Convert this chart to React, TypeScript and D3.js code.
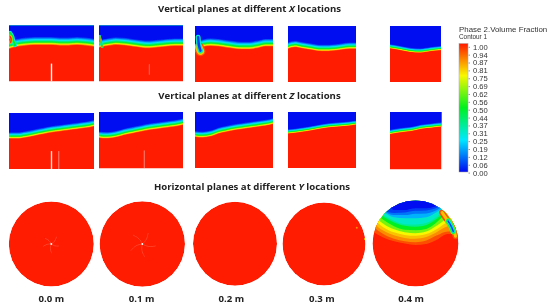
import { useEffect, useRef } from 'react';
import * as d3 from 'd3';

type Pt = [number, number];

// colour bar labels, top to bottom
const tickLabels = ['1.00', '0.94', '0.87', '0.81', '0.75', '0.69', '0.62', '0.56', '0.50', '0.44', '0.37', '0.31', '0.25', '0.19', '0.12', '0.06', '0.00'];

// depth of the 0.5 contour below the panel top, as a fraction of panel height, left to right
const xPlaneInterface = [
    [0.37, 0.33, 0.31, 0.30, 0.30, 0.30, 0.31, 0.31, 0.30, 0.31, 0.33],
    [0.35, 0.32, 0.30, 0.31, 0.33, 0.35, 0.36, 0.345, 0.33, 0.32, 0.32],
    [0.42, 0.33, 0.31, 0.32, 0.34, 0.36, 0.37, 0.37, 0.35, 0.32, 0.32],
    [0.37, 0.34, 0.36, 0.38, 0.40, 0.41, 0.41, 0.40, 0.385, 0.37, 0.37],
    [0.375, 0.405, 0.44, 0.45, 0.425, 0.405],
];
const zPlaneInterface = [
    [0.42, 0.42, 0.40, 0.37, 0.34, 0.31, 0.29, 0.27, 0.25, 0.23, 0.20],
    [0.42, 0.43, 0.41, 0.37, 0.34, 0.31, 0.28, 0.26, 0.24, 0.22, 0.19],
    [0.41, 0.42, 0.40, 0.35, 0.32, 0.29, 0.27, 0.25, 0.23, 0.21, 0.18],
    [0.36, 0.33, 0.29, 0.25, 0.23, 0.20],
    [0.36, 0.33, 0.31, 0.27, 0.25, 0.23],
];
// half thickness of the blue-to-red transition, same units
const xPlaneSpread = [0.095, 0.09, 0.09, 0.075, 0.05];
const zPlaneSpread = [0.075, 0.075, 0.07, 0.05, 0.05];

// contour levels of the 0.4 m section and their lower edges, stations run -1..1 across the circle
const capLevels = [0.94, 0.87, 0.81, 0.75, 0.62, 0.5, 0.37, 0.31, 0.19, 0.12, 0.06, 0];
const capEdges = [
    [-0.28, -0.14, -0.05, 0.0, 0.035, 0.01, -0.09, -0.22, -0.22],
    [-0.40, -0.22, -0.11, -0.05, -0.03, -0.07, -0.19, -0.28, -0.28],
    [-0.49, -0.3, -0.19, -0.13, -0.11, -0.15, -0.27, -0.4, -0.44],
    [-0.58, -0.38, -0.26, -0.2, -0.18, -0.22, -0.34, -0.5, -0.59],
    [-0.67, -0.46, -0.33, -0.26, -0.24, -0.28, -0.42, -0.6, -0.75],
    [-0.75, -0.55, -0.40, -0.32, -0.31, -0.34, -0.5, -0.73, -0.9],
    [-0.8, -0.62, -0.49, -0.41, -0.39, -0.43, -0.58, -0.79, -0.95],
    [-0.83, -0.66, -0.53, -0.45, -0.44, -0.48, -0.63, -0.83, -0.98],
    [-0.9, -0.73, -0.61, -0.59, -0.59, -0.61, -0.73, -0.9, -1],
    [-0.95, -0.76, -0.66, -0.66, -0.69, -0.7, -0.78, -0.95, -1],
    [-0.98, -0.78, -0.71, -0.72, -0.76, -0.77, -0.83, -0.98, -1],
    [-1, -1, -0.78, -0.78, -0.82, -0.82, -0.88, -1, -1],
];

// curls at the wall of the X planes, in panel fractions
const curlA: Pt[] = [[0.012, 0.13], [0.04, 0.2], [0.05, 0.27], [0.07, 0.35]];
const curlACore: Pt[] = [[0.015, 0.2], [0.025, 0.24], [0.02, 0.3]];
const curlB: Pt[] = [[0.008, 0.19], [0.028, 0.32], [0.04, 0.38]];
const curlCRim: Pt[] = [[0.05, 0.38], [0.07, 0.45]];
const curlCNeck: Pt[] = [[0.04, 0.2], [0.05, 0.34], [0.07, 0.44]];
// wet streak in the 0.4 m section, in circle units
const streakOuter: Pt[] = [[0.62, -0.72], [0.7, -0.6], [0.79, -0.48], [0.89, -0.32], [0.93, -0.17]];
const streakCore: Pt[] = [[0.76, -0.52], [0.82, -0.42], [0.88, -0.28]];

// thin gaps in the planes: x fraction, top fraction, bottom fraction, strength
const xPlaneSlits = [[[0.5, 0.68, 1, 1]], [[0.6, 0.69, 0.88, 0.25]], [], [], []];
const zPlaneSlits = [[[0.5, 0.68, 1, 0.85], [0.585, 0.68, 1, 0.35]], [[0.54, 0.68, 1, 0.35]], [], [], []];

// faint spokes around the shaft: angle in degrees and length as a fraction of the radius
const shaftAngles = [[36, -48, -108, 178, 104], [28, -46, -120, 170, 98]];
const shaftLengths = [[0.21, 0.2, 0.21, 0.22, 0.19], [0.29, 0.3, 0.31, 0.3, 0.32]];
// specks in the 0.3 m section
const specks = [[0.79, -0.39, 0.87], [0.985, -0.12, 0.81]];

const sectionLabels = ['0.0 m', '0.1 m', '0.2 m', '0.3 m', '0.4 m'];

const colour = d3.scaleLinear<string>()
    .domain([0, 0.25, 0.5, 0.75, 1])
    .range(['#0008f0', '#00e8ff', '#00f020', '#f8f800', '#ff1a00']);

// where a level sits inside the transition band, -1 top edge
const bandOffset = d3.scaleLinear().domain([0, 0.19, 0.5, 0.75, 0.94, 1]).range([-1, -0.55, 0, 0.28, 0.52, 0.8]);

function App() {
    const svgRef = useRef<SVGSVGElement>(null);

    useEffect(() => {
        if (!svgRef.current) return;
        const svg = d3.select(svgRef.current);
        svg.selectAll('*').remove();

        const defs = svg.append('defs');
        defs.append('filter').attr('id', 'soft').append('feGaussianBlur').attr('stdDeviation', 0.5);

        const levels = tickLabels.map(Number);
        const fillLevels = levels.filter(d => d < 1);
        const field = svg.append('g').attr('filter', 'url(#soft)');
        let clipId = 0;

        // first level is the widest, each next one sits inside it
        const drawPlume = (g: any, x: any, y: any, pts: Pt[], plumeLevels: number[], size: number) => {
            const line = d3.line<Pt>().x(d => x(d[0])).y(d => y(d[1])).curve(d3.curveCatmullRom);
            const width = d3.scaleLinear().domain([0, plumeLevels.length]).range([size, 0]);
            plumeLevels.forEach((level, i) => {
                g.append('path')
                    .attr('d', line(pts))
                    .attr('fill', 'none')
                    .attr('stroke', colour(level))
                    .attr('stroke-width', width(i))
                    .attr('stroke-linecap', 'round')
                    .attr('stroke-linejoin', 'round');
            });
        };

        const drawPanel = (box: number[], profile: number[], spread: number, slits: number[][]) => {
            const [x0, x1, y0, y1] = box;
            const x = d3.scaleLinear().domain([0, 1]).range([x0, x1]);
            const y = d3.scaleLinear().domain([0, 1]).range([y0, y1]);
            const station = d3.scaleLinear().domain([0, profile.length - 1]).range([0, 1]);
            const id = `panel-${clipId++}`;
            defs.append('clipPath').attr('id', id).append('rect')
                .attr('x', x0).attr('y', y0).attr('width', x1 - x0).attr('height', y1 - y0);
            const g = field.append('g').attr('clip-path', `url(#${id})`);
            g.append('rect').attr('x', x0).attr('y', y0).attr('width', x1 - x0).attr('height', y1 - y0)
                .attr('fill', colour(1));
            fillLevels.forEach(level => {
                const area = d3.area<number>()
                    .x((_, i) => x(station(i)))
                    .y0(y(0))
                    .y1(d => y(d + bandOffset(level) * spread))
                    .curve(d3.curveMonotoneX);
                g.append('path').attr('d', area(profile)).attr('fill', colour(level));
            });
            slits.forEach(([sx, top, bottom, strength]) => {
                g.append('rect')
                    .attr('x', x(sx) - 0.7).attr('y', y(top))
                    .attr('width', 1.4).attr('height', y(bottom) - y(top))
                    .attr('fill', '#fff').attr('opacity', strength);
            });
            return { g, x, y };
        };

        const xBoxes = [[9, 94, 25.5, 81.5], [99, 183, 25.5, 81.5], [195, 273, 26, 82], [288, 356, 26, 82], [390, 441, 26, 82]];
        const zBoxes = [[9, 94, 113, 169], [99, 183, 112, 168.5], [195, 273, 112, 168], [288, 356, 112, 168], [390, 441.5, 112, 169.5]];

        const xPanels = xBoxes.map((box, i) => drawPanel(box, xPlaneInterface[i], xPlaneSpread[i], xPlaneSlits[i]));
        zBoxes.forEach((box, i) => drawPanel(box, zPlaneInterface[i], zPlaneSpread[i], zPlaneSlits[i]));

        drawPlume(xPanels[0].g, xPanels[0].x, xPanels[0].y, curlA, [0.25, 0.5], 4);
        drawPlume(xPanels[0].g, xPanels[0].x, xPanels[0].y, curlACore, [0.62, 0.87, 1], 3.5);
        drawPlume(xPanels[1].g, xPanels[1].x, xPanels[1].y, curlB, [0.25, 0.5, 0.87], 2.5);
        drawPlume(xPanels[2].g, xPanels[2].x, xPanels[2].y, curlCRim, [0.94, 0.81, 0.62, 0.44], 10);
        drawPlume(xPanels[2].g, xPanels[2].x, xPanels[2].y, curlCNeck, [0.31, 0.06], 5);

        // horizontal sections
        const circles = [[51.3, 244, 42.5], [142.3, 244, 42.7], [235, 243.7, 42], [324, 244, 41.5], [415.5, 243.5, 43]];
        circles.forEach(([cx, cy, r], i) => {
            const x = d3.scaleLinear().domain([-1, 1]).range([cx - r, cx + r]);
            const y = d3.scaleLinear().domain([-1, 1]).range([cy - r, cy + r]);
            const id = `section-${i}`;
            defs.append('clipPath').attr('id', id).append('circle').attr('cx', cx).attr('cy', cy).attr('r', r);
            const g = field.append('g').attr('clip-path', `url(#${id})`);
            g.append('circle').attr('cx', cx).attr('cy', cy).attr('r', r).attr('fill', colour(1));

            if (shaftAngles[i]) {
                const spoke = d3.lineRadial<Pt>().angle(d => d[0]).radius(d => d[1]).curve(d3.curveBasis);
                shaftAngles[i].forEach((deg, j) => {
                    const a = (deg * Math.PI) / 180;
                    const len = shaftLengths[i][j] * r;
                    g.append('path')
                        .attr('d', spoke([[a, 0], [a + 0.35, len * 0.5], [a, len]]))
                        .attr('transform', `translate(${cx},${cy})`)
                        .attr('fill', 'none').attr('stroke', '#ff6a50').attr('stroke-width', 0.5);
                });
                g.append('circle').attr('cx', cx).attr('cy', cy).attr('r', 0.9).attr('fill', '#fff');
            }
            if (i === 3) {
                specks.forEach(([sx, sy, level]) => {
                    g.append('circle').attr('cx', x(sx)).attr('cy', y(sy)).attr('r', 1).attr('fill', colour(level));
                });
            }
            if (i === 4) {
                const station = d3.scaleLinear().domain([0, capEdges[0].length - 1]).range([-1, 1]);
                capLevels.forEach((level, k) => {
                    const area = d3.area<number>()
                        .x((_, j) => x(station(j)))
                        .y0(y(-1))
                        .y1(d => y(d))
                        .curve(d3.curveMonotoneX);
                    g.append('path').attr('d', area(capEdges[k])).attr('fill', colour(level));
                });
                drawPlume(g, x, y, streakOuter, [0.94, 0.81], 6);
                drawPlume(g, x, y, streakCore, [0.62, 0.44, 0.25, 0.06], 6);
            }
        });

        // colour bar
        const gradient = defs.append('linearGradient').attr('id', 'bar')
            .attr('x1', 0).attr('x2', 0).attr('y1', 1).attr('y2', 0);
        [...levels].reverse().forEach(level => {
            gradient.append('stop').attr('offset', level).attr('stop-color', colour(level));
        });
        svg.append('rect')
            .attr('x', 459).attr('y', 43.5).attr('width', 9).attr('height', 128.5)
            .attr('fill', 'url(#bar)').attr('stroke', '#a8a8a8').attr('stroke-width', 0.5);
        const barScale = d3.scalePoint<string>().domain(tickLabels).range([46.8, 172.6]);
        const axis = svg.append('g')
            .attr('transform', 'translate(468.5,0)')
            .call(d3.axisRight(barScale).tickSize(1.5).tickPadding(3));
        axis.select('.domain').remove();
        axis.selectAll('line').attr('stroke', '#999');
        axis.selectAll('text')
            .attr('font-family', 'Liberation Sans')
            .attr('font-size', 7.6)
            .attr('fill', '#333');

        svg.append('text').attr('x', 459).attr('y', 32).attr('font-family', 'Liberation Sans')
            .attr('font-size', 7.9).attr('fill', '#333').text('Phase 2.Volume Fraction');
        svg.append('text').attr('x', 459).attr('y', 38.5).attr('font-family', 'Liberation Sans')
            .attr('font-size', 6.4).attr('fill', '#333').text('Contour 1');

        // titles
        const title = (cx: number, cy: number, before: string, letter: string) => {
            const t = svg.append('text')
                .attr('x', cx).attr('y', cy)
                .attr('text-anchor', 'middle')
                .attr('font-family', 'Open Sans')
                .attr('font-weight', 700)
                .attr('font-size', 9.6)
                .attr('fill', '#222');
            t.append('tspan').text(before);
            t.append('tspan').attr('font-style', 'italic').text(letter);
            t.append('tspan').text(' locations');
        };
        title(249.5, 11.5, 'Vertical planes at different ', 'X');
        title(249.5, 98.5, 'Vertical planes at different ', 'Z');
        title(252, 189.5, 'Horizontal planes at different ', 'Y');

        const labelCentres = [51.3, 141.5, 231.3, 321.8, 411];
        sectionLabels.forEach((label, i) => {
            svg.append('text')
                .attr('x', labelCentres[i]).attr('y', 301.5)
                .attr('text-anchor', 'middle')
                .attr('font-family', 'Open Sans')
                .attr('font-weight', 700)
                .attr('font-size', 9.6)
                .attr('fill', '#222')
                .text(label);
        });
    }, []);

    return <svg ref={svgRef} width={550} height={307} style={{ position: 'absolute', left: 0, top: 0, background: '#fff' }}></svg>;
}

export default App;
